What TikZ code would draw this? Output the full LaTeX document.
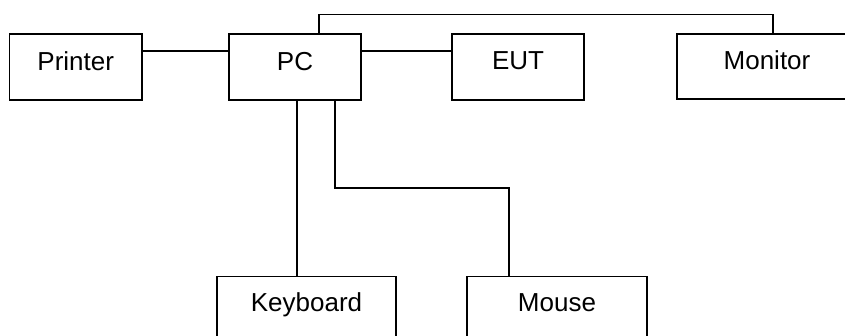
\documentclass[tikz,border=0pt]{standalone}
\usepackage{fontspec}
\setmainfont{Liberation Sans}
\begin{document}
\begin{tikzpicture}[x=1pt,y=-1pt,
  box/.style={draw=black, line width=1.3pt, rectangle, inner sep=0pt, fill=white},
  lbl/.style={anchor=base, inner sep=0pt, font=\fontsize{26}{30}\selectfont},
  wire/.style={draw=black, line width=1.3pt}]
\useasboundingbox (0,0) rectangle (845,336);
\clip (0,0) rectangle (845,336);
\fill[white] (0,0) rectangle (845,336);
% boxes
\node[box, minimum width=132.5pt, minimum height=66pt] (printer) at (75.75,67) {};
\node[box, minimum width=132pt, minimum height=66pt] (pc) at (295,67) {};
\node[box, minimum width=132pt, minimum height=66pt] (eut) at (518,67) {};
\node[box, minimum width=180pt, minimum height=65pt] (monitor) at (767,66.5) {};
\node[box, minimum width=179pt, minimum height=130pt, anchor=north] (kb) at (306.5,276) {};
\node[box, minimum width=180pt, minimum height=130pt, anchor=north] (mouse) at (557,276) {};
% labels
\node[lbl] (printert) at ([yshift=-4pt]printer.center) {Printer};
\node[lbl] (pct) at ([yshift=-4pt]pc.center) {PC};
\node[lbl] (eutt) at ([yshift=-3pt]eut.center) {EUT};
\node[lbl] (monitort) at ([yshift=-3.5pt]monitor.center) {Monitor};
\node[lbl] (kbt) at ([yshift=-36pt]kb.north) {Keyboard};
\node[lbl] (mouset) at ([yshift=-36pt]mouse.north) {Mouse};
% connectors
\draw[wire] ([yshift=16pt]printer.east) -- ([yshift=16pt]pc.west);
\draw[wire] ([yshift=16pt]pc.east) -- ([yshift=16pt]eut.west);
\draw[wire] ([xshift=24pt]pc.north) -- ++(0,-19) -| (monitor.north -| 773,0);
\draw[wire] (pc.south -| 297,0) -- (kb.north -| 297,0);
\draw[wire] (pc.south -| 335,0) |- (509,188) -- (mouse.north -| 509,0);
\end{tikzpicture}
\end{document}
